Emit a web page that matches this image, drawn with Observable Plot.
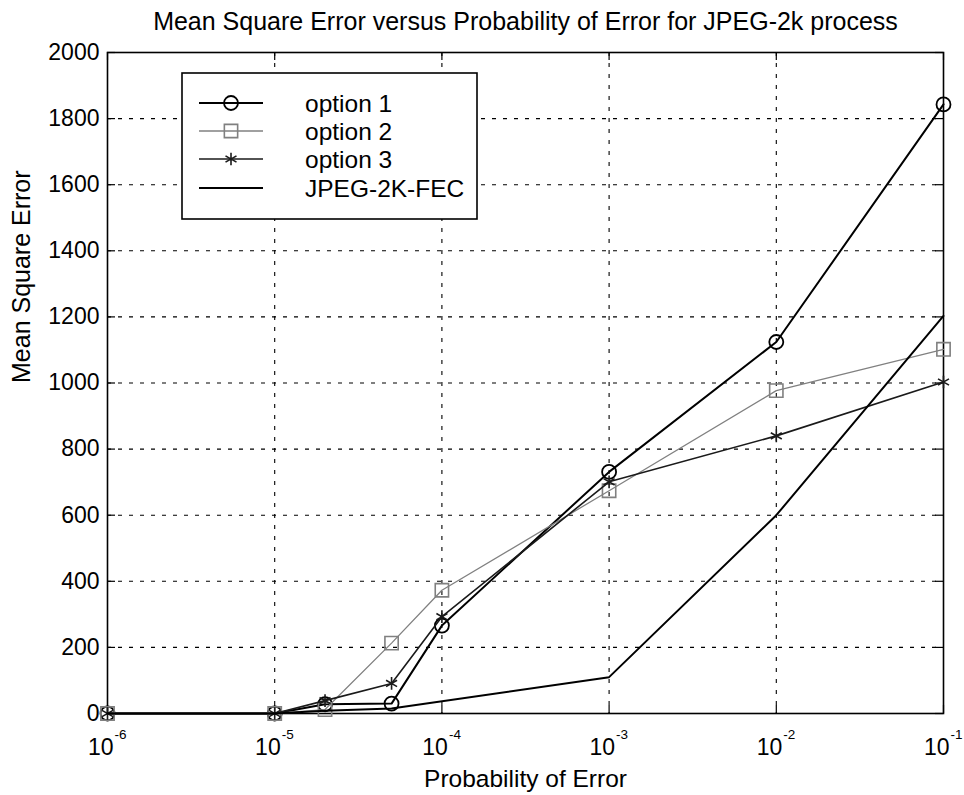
<!DOCTYPE html>
<html>
<head>
<meta charset="utf-8">
<script src="https://cdn.jsdelivr.net/npm/d3@7"></script>
<script src="https://cdn.jsdelivr.net/npm/@observablehq/plot@0.6"></script>
<style>
  html, body { margin: 0; padding: 0; background: #fff; }
  svg { display: block; }
</style>
</head>
<body>
<script>
// ---- data ----
const probError = [1e-6, 1e-5, 2e-5, 5e-5, 1e-4, 1e-3, 1e-2, 1e-1];
const option1 = [0, 0, 28, 30, 266, 731, 1124, 1843];
const option2 = [0, 0, 12, 213, 373, 674, 977, 1102];
const option3 = [0, 0, 39, 91, 293, 701, 840, 1003];
const fecProbError = [1e-6, 1e-5, 2e-5, 5e-5, 1e-3, 1e-2, 1e-1];
const fecValues = [0, 0, 8, 15, 110, 600, 1203];
const seriesNames = ["option 1", "option 2", "option 3", "JPEG-2K-FEC"];
const xTicks = [1e-6, 1e-5, 1e-4, 1e-3, 1e-2, 1e-1];
const yTicks = [0, 200, 400, 600, 800, 1000, 1200, 1400, 1600, 1800, 2000];
const titleText = "Mean Square Error versus Probability of Error for JPEG-2k process";
const xLabel = "Probability of Error";
const yLabel = "Mean Square Error";

const toRows = (xs, ys) => xs.map((x, i) => ({x, y: ys[i]}));
const s1 = toRows(probError, option1);
const s2 = toRows(probError, option2);
const s3 = toRows(probError, option3);
const s4 = toRows(fecProbError, fecValues);

const W = 964, H = 795, ML = 107, MR = 21, MT = 52, MB = 82;
const PW = W - ML - MR, PH = H - MT - MB;
const FONT = "'Liberation Sans', Arial, Helvetica, sans-serif";
const TL = 8; // inner tick length

const grid = {stroke: "#000", strokeWidth: 1.1, strokeDasharray: "4,7"};

const svg = Plot.plot({
  width: W, height: H,
  marginLeft: ML, marginRight: MR, marginTop: MT, marginBottom: MB,
  style: {fontFamily: FONT, background: "#fff", color: "#000"},
  x: {type: "log", domain: [1e-6, 1e-1], axis: null},
  y: {domain: [0, 2000], axis: null},
  marks: [
    // dashed grid
    Plot.ruleX(xTicks.slice(1, -1), {x: d => d, ...grid}),
    Plot.ruleY(yTicks.slice(1, -1), {y: d => d, ...grid}),
    // inner ticks on all four sides
    Plot.ruleY(yTicks, {y: d => d, insetRight: PW - TL, stroke: "#000", strokeWidth: 1.2}),
    Plot.ruleY(yTicks, {y: d => d, insetLeft: PW - TL, stroke: "#000", strokeWidth: 1.2}),
    Plot.ruleX(xTicks, {x: d => d, insetTop: PH - TL, stroke: "#000", strokeWidth: 1.2}),
    Plot.ruleX(xTicks, {x: d => d, insetBottom: PH - TL, stroke: "#000", strokeWidth: 1.2}),
    Plot.frame({stroke: "#000", strokeWidth: 1.6}),
    // y tick labels
    Plot.axisY({ticks: yTicks, tickSize: 0, tickPadding: 8, label: null,
      tickFormat: d => String(d), fontSize: 23}),
    // x tick labels: 10 with superscript exponent
    Plot.text(xTicks, {x: d => d, frameAnchor: "bottom", lineAnchor: "middle", text: () => "10",
      textAnchor: "end", dx: 6, dy: 34, fontSize: 23, fill: "#000"}),
    Plot.text(xTicks, {x: d => d, frameAnchor: "bottom", lineAnchor: "middle",
      text: d => String(Math.round(Math.log10(d))),
      textAnchor: "start", dx: 7, dy: 21, fontSize: 13.5, fill: "#000"}),
    // axis labels and title
    Plot.text([xLabel], {frameAnchor: "bottom", lineAnchor: "middle", text: d => d, dy: 66, fontSize: 24.5, fill: "#000"}),
    Plot.text([yLabel], {frameAnchor: "left", lineAnchor: "middle", text: d => d, rotate: -90, dx: -86, fontSize: 25, fill: "#000"}),
    Plot.text([titleText], {frameAnchor: "top", lineAnchor: "middle", text: d => d, dy: -31, fontSize: 25, fill: "#000"}),
    // series
    Plot.line(s1, {x: "x", y: "y", stroke: "#000", strokeWidth: 2}),
    Plot.dot(s1, {x: "x", y: "y", symbol: "circle", r: 7, stroke: "#000", strokeWidth: 1.8, fill: "none"}),
    Plot.line(s2, {x: "x", y: "y", stroke: "#808080", strokeWidth: 1.3}),
    Plot.dot(s2, {x: "x", y: "y", symbol: "square", r: 7.5, stroke: "#808080", strokeWidth: 1.6, fill: "none"}),
    Plot.line(s3, {x: "x", y: "y", stroke: "#1a1a1a", strokeWidth: 1.6}),
    Plot.dot(s3, {x: "x", y: "y", symbol: "asterisk", r: 6, stroke: "#1a1a1a", strokeWidth: 1.6, fill: "none"}),
    Plot.line(s4, {x: "x", y: "y", stroke: "#000", strokeWidth: 2})
  ]
});
document.body.append(svg);

// ---- legend box (MATLAB style, inside plot) ----
const legendStyles = [
  {stroke: "#000", width: 2, symbol: d3.symbolCircle, size: 7 * 7 * Math.PI, sw: 1.8},
  {stroke: "#808080", width: 1.3, symbol: d3.symbolSquare, size: 7.5 * 7.5 * Math.PI, sw: 1.6},
  {stroke: "#1a1a1a", width: 1.6, symbol: d3.symbolAsterisk, size: 6 * 6 * Math.PI, sw: 1.6},
  {stroke: "#000", width: 2, symbol: null}
];
const lg = d3.select(svg).append("g").attr("font-family", FONT).attr("text-anchor", "start");
lg.append("rect").attr("x", 182).attr("y", 73).attr("width", 295).attr("height", 146)
  .attr("fill", "#fff").attr("stroke", "#000").attr("stroke-width", 1.6);
const rowY = [103, 131, 159, 188];
seriesNames.forEach((name, i) => {
  const st = legendStyles[i];
  const g = lg.append("g").attr("transform", `translate(0,${rowY[i]})`);
  g.append("line").attr("x1", 199).attr("x2", 263).attr("y1", 0).attr("y2", 0)
    .attr("stroke", st.stroke).attr("stroke-width", st.width);
  if (st.symbol) {
    g.append("path").attr("d", d3.symbol(st.symbol, st.size)())
      .attr("transform", "translate(231,0)")
      .attr("fill", "none").attr("stroke", st.stroke).attr("stroke-width", st.sw);
  }
  g.append("text").attr("x", 305).attr("y", 0).attr("dy", "0.35em")
    .attr("text-anchor", "start")
    .attr("font-size", 24.5).attr("fill", "#000").text(name);
});
</script>
</body>
</html>
